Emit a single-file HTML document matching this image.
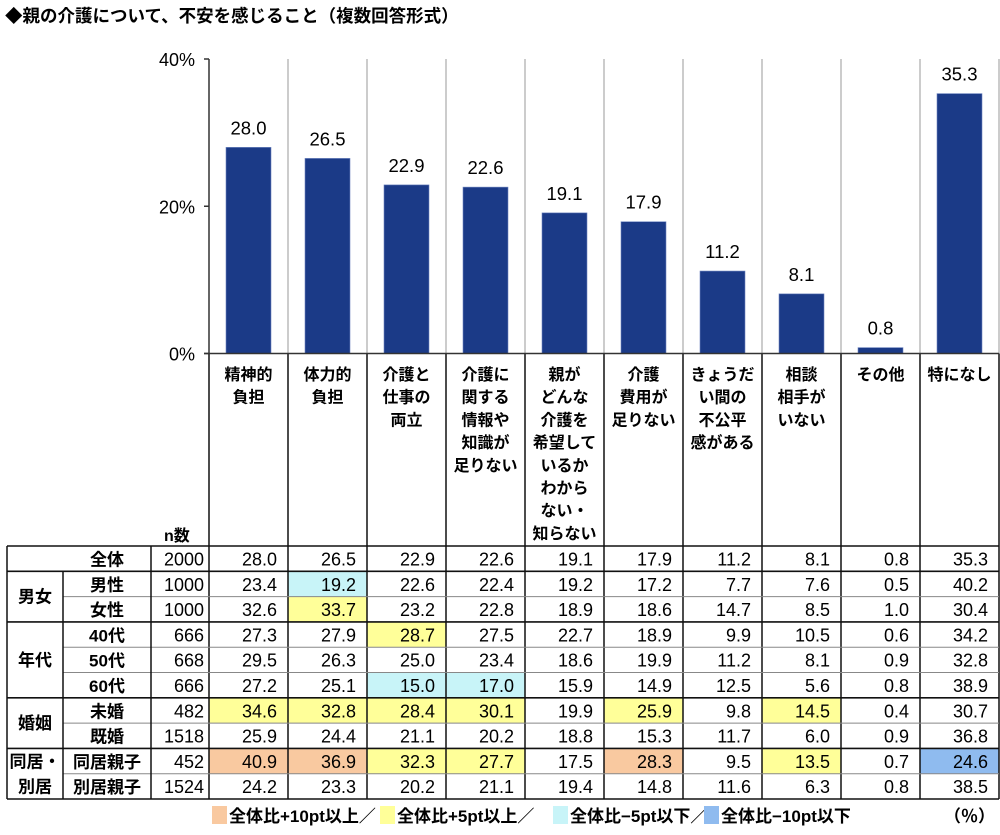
<!DOCTYPE html>
<html><head><meta charset="utf-8">
<style>
body{margin:0;background:#fff;}
svg text{font-family:"Liberation Sans","Noto Sans CJK JP",sans-serif;}
</style></head>
<body>
<svg id="c" width="1000" height="830" viewBox="0 0 1000 830" xmlns="http://www.w3.org/2000/svg">
<text x="5" y="22" font-size="17.5" font-weight="bold" fill="#000">◆親の介護について、不安を感じること（複数回答形式）</text>
</svg>
<script>
const categories=[["精神的","負担"],["体力的","負担"],["介護と","仕事の","両立"],["介護に","関する","情報や","知識が","足りない"],["親が","どんな","介護を","希望して","いるか","わから","ない・","知らない"],["介護","費用が","足りない"],["きょうだ","い間の","不公平","感がある"],["相談","相手が","いない"],["その他"],["特になし"]];
const totals=[28.0,26.5,22.9,22.6,19.1,17.9,11.2,8.1,0.8,35.3];
const yTicks=[0,20,40];
const yTickLabels=["0%","20%","40%"];
const rowLabels=["全体","男性","女性","40代","50代","60代","未婚","既婚","同居親子","別居親子"];
const rowN=[2000,1000,1000,666,668,666,482,1518,452,1524];
const rowValues=[
[28.0,26.5,22.9,22.6,19.1,17.9,11.2,8.1,0.8,35.3],
[23.4,19.2,22.6,22.4,19.2,17.2,7.7,7.6,0.5,40.2],
[32.6,33.7,23.2,22.8,18.9,18.6,14.7,8.5,1.0,30.4],
[27.3,27.9,28.7,27.5,22.7,18.9,9.9,10.5,0.6,34.2],
[29.5,26.3,25.0,23.4,18.6,19.9,11.2,8.1,0.9,32.8],
[27.2,25.1,15.0,17.0,15.9,14.9,12.5,5.6,0.8,38.9],
[34.6,32.8,28.4,30.1,19.9,25.9,9.8,14.5,0.4,30.7],
[25.9,24.4,21.1,20.2,18.8,15.3,11.7,6.0,0.9,36.8],
[40.9,36.9,32.3,27.7,17.5,28.3,9.5,13.5,0.7,24.6],
[24.2,23.3,20.2,21.1,19.4,14.8,11.6,6.3,0.8,38.5]];
const legendLabels=["全体比+10pt以上／","全体比+5pt以上／","全体比−5pt以下／","全体比−10pt以下"];

const NS="http://www.w3.org/2000/svg";
const svg=document.getElementById('c');
function el(tag,attrs,parent){const e=document.createElementNS(NS,tag);for(const k in attrs)e.setAttribute(k,attrs[k]);(parent||svg).appendChild(e);return e;}
const X0=209,CW=79,Y0=353.5,YMAX=40,PLOT_H=294.5;
const yScale=v=>Y0-v/YMAX*PLOT_H;
const colX=i=>X0+i*CW;
const TOP=546,RH=25.3,NCOL=10;
function colorFor(v,base){const d=v-base;if(d>=10)return"#f9c9a0";if(d>=5)return"#ffff99";if(d<=-10)return"#8fbbef";if(d<=-5)return"#c8f4f8";return null;}

for(let i=1;i<=NCOL;i++){
  const g=el('line',{x1:colX(i),y1:yScale(YMAX),x2:colX(i),y2:Y0,stroke:'#9a9a9a','stroke-width':1});
  
  
}
const ax=el('line',{x1:X0,y1:yScale(YMAX),x2:X0,y2:Y0,stroke:'#333','stroke-width':1.5});


yTicks.forEach((t,i)=>{
  const tk=el('line',{x1:X0-5,y1:yScale(t),x2:X0,y2:yScale(t),stroke:'#333','stroke-width':1.5});
  
  
  const tl=el('text',{x:X0-14,y:yScale(t)+7,'font-size':18,'text-anchor':'end'});
  tl.textContent=yTickLabels[i];
  
  
});
totals.forEach((v,i)=>{
  const b=el('rect',{x:colX(i)+17,y:yScale(v),width:45,height:Y0-yScale(v),fill:'#1b3a87',stroke:'#6f86c0','stroke-width':0.6});
  
  
  const t=el('text',{x:colX(i)+39.5,y:yScale(v)-13,'font-size':18.5,'text-anchor':'middle'});
  t.textContent=v.toFixed(1);
  
  
});
rowValues.forEach((row,r)=>{
  row.forEach((v,c)=>{
    const col=colorFor(v,totals[c]);
    if(col){const h=el('rect',{x:colX(c),y:TOP+r*RH,width:CW,height:RH,fill:col});
      
      }
  });
});
categories.forEach((lines,i)=>{
  lines.forEach((s,j)=>{
    const t=el('text',{x:colX(i)+39.5,y:380+j*22.7,'font-size':16,'font-weight':'bold','text-anchor':'middle'});
    t.textContent=s;
    
    
  });
});
for(let i=0;i<=NCOL;i++){
  const l=el('line',{x1:colX(i),y1:Y0,x2:colX(i),y2:TOP+10*RH,stroke:'#111','stroke-width':1.5});
  
  
}
const ax0=el('line',{x1:X0-5,y1:Y0,x2:999,y2:Y0,stroke:'#333','stroke-width':1.5});


const nl=el('text',{x:164,y:541,'font-size':16,'font-weight':'bold'});
nl.textContent='n数';



const thick=[0,1,3,6,8,10];
for(let r=0;r<=10;r++){
  const isThick=thick.includes(r);
  const x1=isThick?7:63;
  const l=el('line',{x1:x1,y1:TOP+r*RH,x2:999,y2:TOP+r*RH,stroke:isThick?'#111':'#888','stroke-width':isThick?1.6:1});
  
  
}
[[7,TOP,TOP+10*RH],[151,TOP,TOP+10*RH],[63,TOP+RH,TOP+10*RH]].forEach(a=>{
  const l=el('line',{x1:a[0],y1:a[1],x2:a[0],y2:a[2],stroke:'#111','stroke-width':1.5});
  
  
});
const groups=[["男女",1,2],["年代",3,5],["婚姻",6,7]];
groups.forEach(g=>{
  const cy=TOP+(g[1]+g[2]+1)/2*RH;
  const t=el('text',{x:35,y:cy+6,'font-size':17,'font-weight':'bold','text-anchor':'middle'});
  t.textContent=g[0];
  
  
});
["同居・","別居"].forEach((s,j)=>{
  const t=el('text',{x:35,y:TOP+8*RH+19+j*RH,'font-size':17,'font-weight':'bold','text-anchor':'middle'});
  t.textContent=s;
  
  
});
rowLabels.forEach((s,r)=>{
  const y=TOP+r*RH+19.5;
  const t=el('text',{x:107,y:y,'font-size':17,'font-weight':'bold','text-anchor':'middle'});
  t.textContent=s;
  
  
  const n=el('text',{x:204,y:y,'font-size':18,'text-anchor':'end'});
  n.textContent=rowN[r];
  
  
  rowValues[r].forEach((v,c)=>{
    const tv=el('text',{x:colX(c)+CW-11,y:y,'font-size':18,'text-anchor':'end'});
    tv.textContent=v.toFixed(1);
    
    
  });
});
const legColors=["#f9c9a0","#ffff99","#c8f4f8","#8fbbef"];
const legX=[212,380,553,704];
legendLabels.forEach((s,i)=>{
  const r=el('rect',{x:legX[i],y:806,width:15,height:18,fill:legColors[i]});
  
  
  const t=el('text',{x:legX[i]+17,y:822,'font-size':17,'font-weight':'bold'});
  t.textContent=s;
  
  
});
const pu=el('text',{x:995,y:822,'font-size':17,'font-weight':'bold','text-anchor':'end'});
pu.textContent='（％）';


</script>
</body></html>
